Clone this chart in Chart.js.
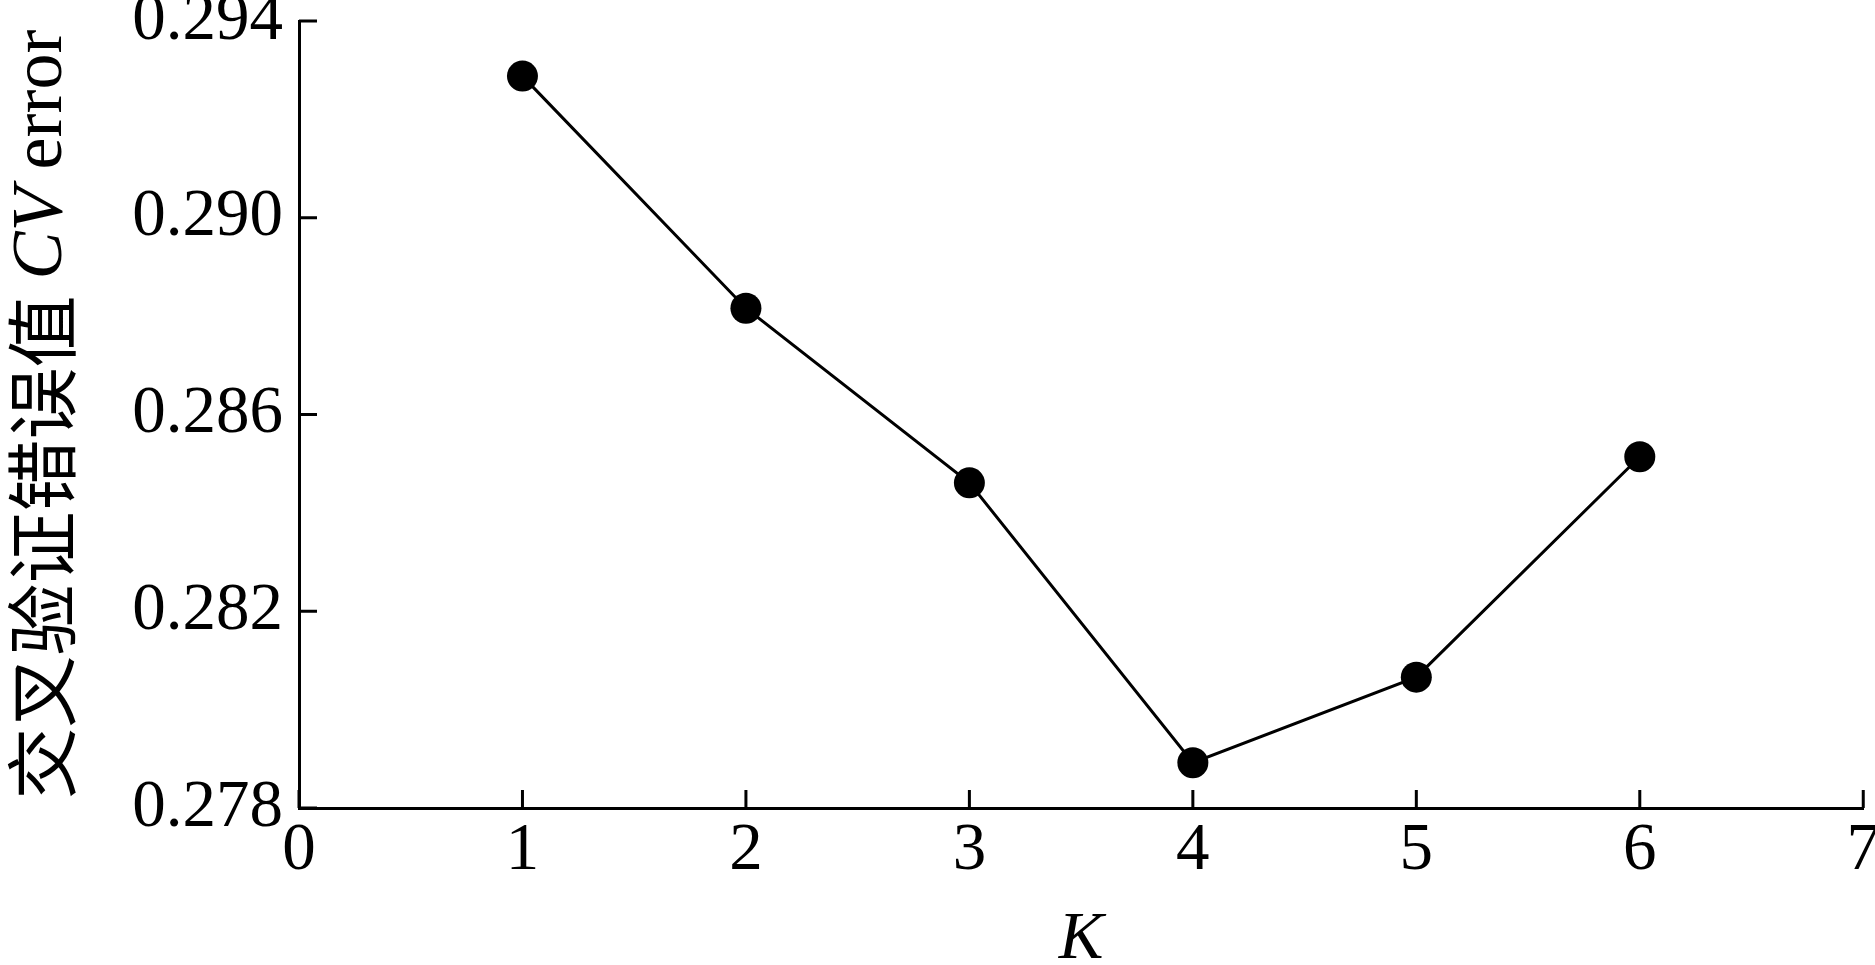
<!DOCTYPE html>
<html>
<head>
<meta charset="utf-8">
<script src="https://cdn.jsdelivr.net/npm/chart.js@4/dist/chart.umd.min.js"></script>
<style>
  html, body { margin: 0; padding: 0; background: #fff; overflow: hidden; }
  #frame { width: 1875px; height: 965px; overflow: hidden; }
  /* a bit wider than the page so the "7" label runs off the edge as in the original */
  #wrap { width: 1883px; height: 965px; }
</style>
</head>
<body>
<div id="frame"><div id="wrap"><canvas id="cvChart"></canvas></div></div>
<script>
// K values and the cross-validation error
const kValues = [1, 2, 3, 4, 5, 6];
const cvError = [0.29288, 0.28816, 0.28461, 0.27892, 0.28066, 0.28514];
const yTicks = [0.278, 0.282, 0.286, 0.290, 0.294];
const xTicks = [0, 1, 2, 3, 4, 5, 6, 7];

const SERIF = "'Liberation Serif', 'Times New Roman', serif";
const CJK = "'Noto Sans CJK SC', sans-serif";

// inward ticks, like the original plot
const inwardTicks = {
    id: 'inwardTicks',
    afterDraw(chart) {
        const ctx = chart.ctx;
        const x = chart.scales.x, y = chart.scales.y;
        const len = 18;
        ctx.save();
        ctx.strokeStyle = '#000';
        ctx.lineWidth = 3;
        ctx.beginPath();
        xTicks.forEach(v => {
            const px = x.getPixelForValue(v);
            ctx.moveTo(px, y.bottom);
            ctx.lineTo(px, y.bottom - len);
        });
        yTicks.forEach(v => {
            const py = y.getPixelForValue(v);
            ctx.moveTo(x.left, py);
            ctx.lineTo(x.left + len, py);
        });
        ctx.stroke();
        ctx.restore();
    }
};

// y title with mixed fonts (CJK + italic CV)
const yTitle = {
    id: 'yTitle',
    afterDraw(chart) {
        const ctx = chart.ctx;
        const area = chart.chartArea;
        const parts = [
            { t: '交叉验证错误值 ', f: '72px ' + CJK },
            { t: 'CV', f: 'italic 72px ' + SERIF },
            { t: ' error', f: '72px ' + SERIF }
        ];
        ctx.save();
        let total = 0;
        parts.forEach(p => { ctx.font = p.f; p.w = ctx.measureText(p.t).width; total += p.w; });
        ctx.translate(42, (area.top + area.bottom) / 2);
        ctx.rotate(-Math.PI / 2);
        ctx.fillStyle = '#000';
        ctx.textBaseline = 'middle';
        let cx = -total / 2;
        parts.forEach(p => {
            ctx.font = p.f;
            ctx.fillText(p.t, cx, 0);
            cx += p.w;
        });
        ctx.restore();
    }
};

new Chart(document.getElementById('cvChart'), {
    type: 'line',
    data: {
        datasets: [{
            data: kValues.map((k, i) => ({ x: k, y: cvError[i] })),
            borderColor: '#000',
            borderWidth: 3,
            backgroundColor: '#000',
            pointRadius: 15.5,
            pointBackgroundColor: '#000',
            pointBorderWidth: 0,
            tension: 0
        }]
    },
    options: {
        responsive: true,
        maintainAspectRatio: false,
        animation: false,
        layout: { padding: { top: 21, right: 0, left: 0, bottom: 0 } },
        plugins: {
            legend: { display: false },
            tooltip: { enabled: false }
        },
        scales: {
            x: {
                type: 'linear',
                min: 0,
                max: 7,
                afterBuildTicks: s => { s.ticks = xTicks.map(v => ({ value: v })); },
                afterFit: s => { s.height = 157; s.paddingLeft = 0; },
                grid: { display: false, drawTicks: false },
                border: { display: true, color: '#000', width: 3 },
                ticks: {
                    color: '#000',
                    padding: 3,
                    maxRotation: 0,
                    font: { family: SERIF, size: 67 }
                },
                title: {
                    display: true,
                    text: 'K',
                    color: '#000',
                    padding: { top: 0, bottom: -16 },
                    font: { family: SERIF, size: 67, style: 'italic' }
                }
            },
            y: {
                min: 0.278,
                max: 0.294,
                afterBuildTicks: s => { s.ticks = yTicks.map(v => ({ value: v })); },
                afterFit: s => { s.width = 299; s.paddingTop = 0; s.paddingBottom = 0; },
                grid: { display: false, drawTicks: false },
                border: { display: true, color: '#000', width: 3 },
                ticks: {
                    color: '#000',
                    padding: 16,
                    font: { family: SERIF, size: 67 },
                    callback: v => v.toFixed(3)
                }
            }
        }
    },
    plugins: [inwardTicks, yTitle]
});
</script>
</body>
</html>
